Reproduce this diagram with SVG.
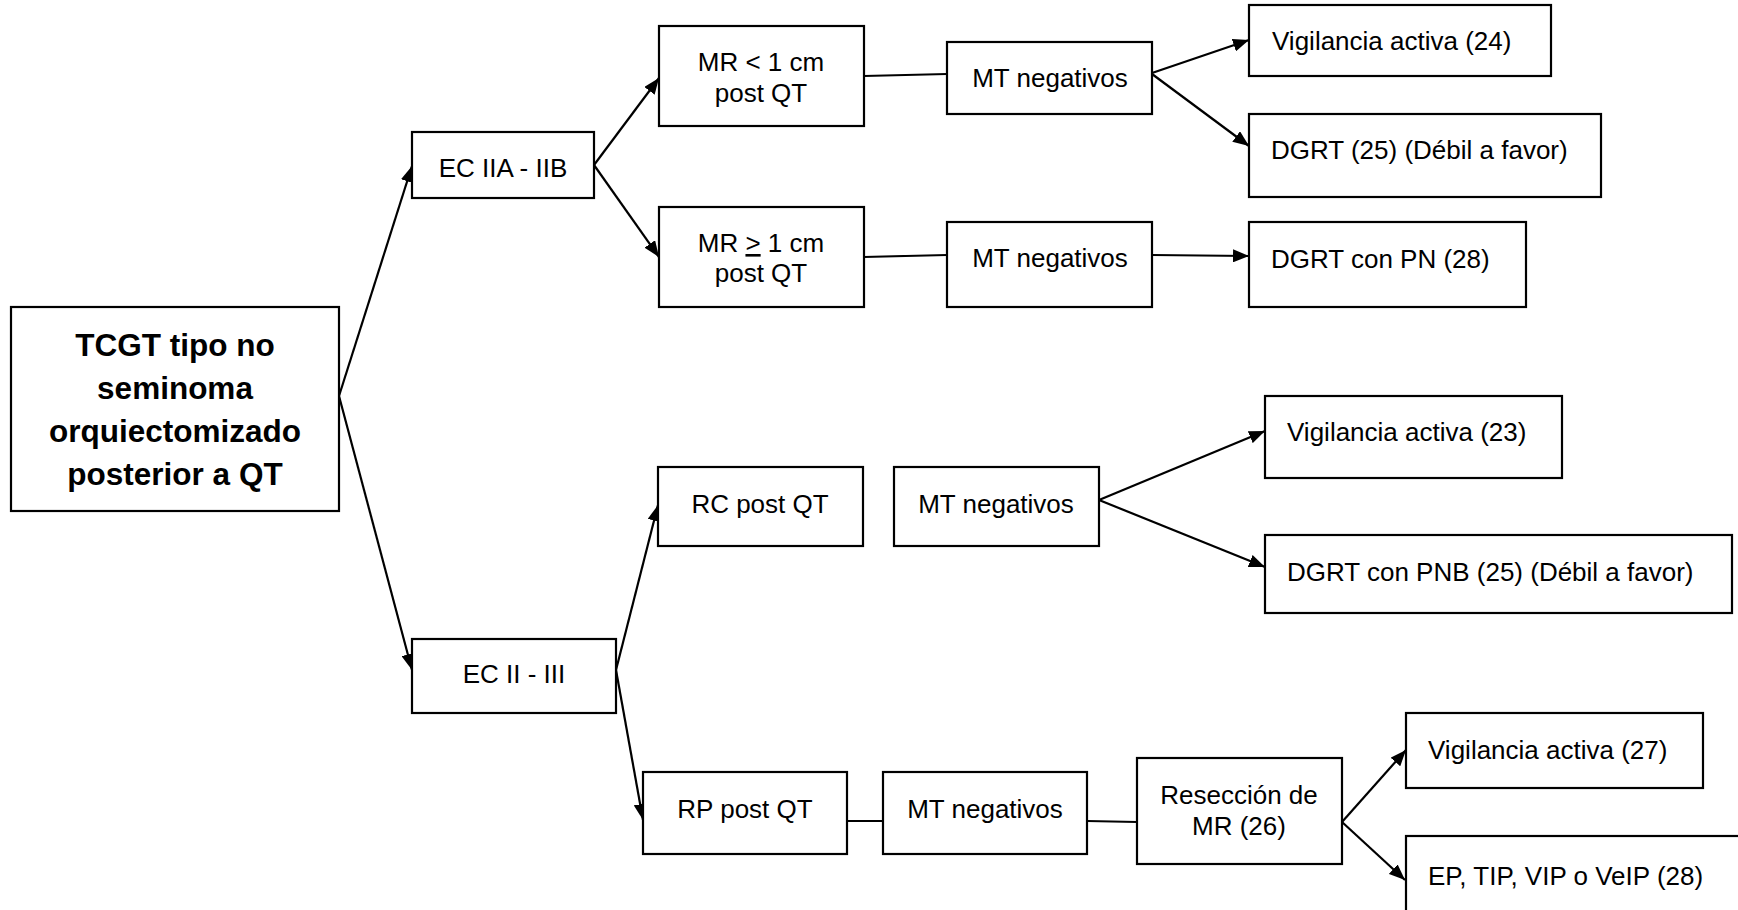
<svg xmlns="http://www.w3.org/2000/svg" width="1738" height="910" viewBox="0 0 1738 910">
<style>
.box{fill:#fff;stroke:#000;stroke-width:2.2}
.t{font-family:"Liberation Sans",Arial,sans-serif;font-size:26px;fill:#000}
.c{text-anchor:middle}
.b{font-family:"Liberation Sans",Arial,sans-serif;font-size:31.5px;font-weight:bold;fill:#000;text-anchor:middle}
.ln{stroke:#000;stroke-width:2.2;fill:none}
.ar{stroke:#000;stroke-width:2.2;fill:none;marker-end:url(#ah)}
</style>
<defs>
<marker id="ah" markerUnits="userSpaceOnUse" markerWidth="17" markerHeight="13" refX="16" refY="6.5" orient="auto">
<path d="M0,0 L16,6.5 L0,13 z" fill="#000"/>
</marker>
</defs>
<rect width="1738" height="910" fill="#fff"/>
<g id="connectors">
<line class="ar" x1="339" y1="396" x2="412" y2="166"/>
<line class="ar" x1="339" y1="396" x2="412" y2="670"/>
<line class="ar" x1="594" y1="165" x2="659" y2="78"/>
<line class="ar" x1="594" y1="165" x2="659" y2="257"/>
<line class="ln" x1="864" y1="76" x2="947" y2="74"/>
<line class="ln" x1="864" y1="257" x2="947" y2="255"/>
<line class="ar" x1="1152" y1="73" x2="1249" y2="40"/>
<line class="ar" x1="1152" y1="74" x2="1249" y2="146"/>
<line class="ar" x1="1152" y1="255" x2="1249" y2="256"/>
<line class="ar" x1="616" y1="670" x2="658" y2="505"/>
<line class="ar" x1="616" y1="670" x2="643" y2="820"/>
<line class="ar" x1="1099" y1="500" x2="1265" y2="431"/>
<line class="ar" x1="1099" y1="500" x2="1265" y2="567"/>
<line class="ln" x1="847" y1="821" x2="883" y2="821"/>
<line class="ln" x1="1087" y1="821" x2="1137" y2="822"/>
<line class="ar" x1="1342" y1="822" x2="1406" y2="750"/>
<line class="ar" x1="1342" y1="822" x2="1405" y2="880"/>
</g>
<g id="main">
<rect class="box" x="11" y="307" width="328" height="204"/>
<text class="b" x="175" y="356">TCGT tipo no</text>
<text class="b" x="175" y="399">seminoma</text>
<text class="b" x="175" y="442">orquiectomizado</text>
<text class="b" x="175" y="485">posterior a QT</text>
</g>
<g id="ec2a2b">
<rect class="box" x="412" y="132" width="182" height="66"/>
<text class="t c" x="503" y="177">EC IIA - IIB</text>
</g>
<g id="mr_lt1">
<rect class="box" x="659" y="26" width="205" height="100"/>
<text class="t c" x="761" y="71">MR &lt; 1 cm</text>
<text class="t c" x="761" y="102">post QT</text>
</g>
<g id="mt1">
<rect class="box" x="947" y="42" width="205" height="72"/>
<text class="t c" x="1050" y="87">MT negativos</text>
</g>
<g id="mr_ge1">
<rect class="box" x="659" y="207" width="205" height="100"/>
<text class="t c" x="761" y="252">MR <tspan text-decoration="underline">&gt;</tspan> 1 cm</text>
<text class="t c" x="761" y="282">post QT</text>
</g>
<g id="mt2">
<rect class="box" x="947" y="222" width="205" height="85"/>
<text class="t c" x="1050" y="267">MT negativos</text>
</g>
<g id="vig24">
<rect class="box" x="1249" y="5" width="302" height="71"/>
<text class="t" x="1272" y="50">Vigilancia activa (24)</text>
</g>
<g id="dgrt25">
<rect class="box" x="1249" y="114" width="352" height="83"/>
<text class="t" x="1271" y="159">DGRT (25) (Débil a favor)</text>
</g>
<g id="dgrtpn">
<rect class="box" x="1249" y="222" width="277" height="85"/>
<text class="t" x="1271" y="268">DGRT con PN (28)</text>
</g>
<g id="ec2_3">
<rect class="box" x="412" y="639" width="204" height="74"/>
<text class="t c" x="514" y="683">EC II - III</text>
</g>
<g id="rc">
<rect class="box" x="658" y="467" width="205" height="79"/>
<text class="t c" x="760" y="513">RC post QT</text>
</g>
<g id="mt3">
<rect class="box" x="894" y="467" width="205" height="79"/>
<text class="t c" x="996" y="513">MT negativos</text>
</g>
<g id="vig23">
<rect class="box" x="1265" y="396" width="297" height="82"/>
<text class="t" x="1287" y="441">Vigilancia activa (23)</text>
</g>
<g id="dgrtpnb">
<rect class="box" x="1265" y="535" width="467" height="78"/>
<text class="t" x="1287" y="581">DGRT con PNB (25) (Débil a favor)</text>
</g>
<g id="rp">
<rect class="box" x="643" y="772" width="204" height="82"/>
<text class="t c" x="745" y="818">RP post QT</text>
</g>
<g id="mt4">
<rect class="box" x="883" y="772" width="204" height="82"/>
<text class="t c" x="985" y="818">MT negativos</text>
</g>
<g id="reseccion">
<rect class="box" x="1137" y="758" width="205" height="106"/>
<text class="t c" x="1239" y="804">Resección de</text>
<text class="t c" x="1239" y="835">MR (26)</text>
</g>
<g id="vig27">
<rect class="box" x="1406" y="713" width="297" height="75"/>
<text class="t" x="1428" y="759">Vigilancia activa (27)</text>
</g>
<g id="ep">
<rect class="box" x="1406" y="836" width="345" height="90"/>
<text class="t" x="1428" y="885">EP, TIP, VIP o VeIP (28)</text>
</g>
</svg>
